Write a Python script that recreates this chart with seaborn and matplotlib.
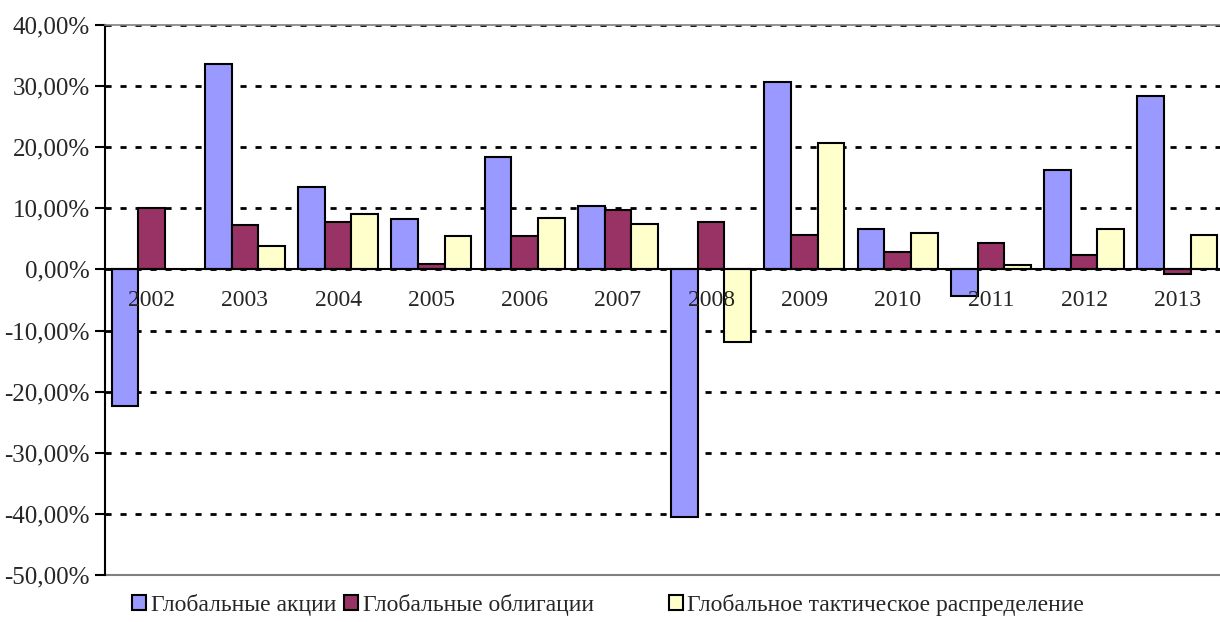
import numpy as np
import pandas as pd
import matplotlib
matplotlib.use("Agg")
import matplotlib.pyplot as plt
from matplotlib.ticker import FuncFormatter, FixedLocator
from matplotlib.patches import Patch
import seaborn as sns

# Annual returns, percent
years = ["2002", "2003", "2004", "2005", "2006", "2007",
         "2008", "2009", "2010", "2011", "2012", "2013"]
stocks = [-22.4, 33.6, 13.5, 8.3, 18.4, 10.4, -40.5, 30.7, 6.6, -4.3, 16.2, 28.4]
bonds = [10.1, 7.3, 7.7, 0.9, 5.5, 9.8, 7.7, 5.6, 2.8, 4.4, 2.3, -0.8]
tactical = [np.nan, 3.8, 9.0, 5.4, 8.5, 7.4, -11.9, 20.7, 6.0, 0.7, 6.6, 5.7]

series_names = ["Глобальные акции", "Глобальные облигации",
                "Глобальное тактическое распределение"]
colors = ["#9999FF", "#993366", "#FFFFCC"]

df = pd.DataFrame({
    "year": years * 3,
    "series": np.repeat(series_names, len(years)),
    "value": stocks + bonds + tactical,
})

sns.set_style("white")
plt.rcParams["font.family"] = ["Liberation Serif", "DejaVu Serif"]
FS = 17

fig = plt.figure(figsize=(12.2, 6.22), dpi=100)
ax = fig.add_axes([105 / 1220, 1 - 575 / 622, (1224 - 105) / 1220, 550 / 622])

sns.barplot(data=df, x="year", y="value", hue="series", order=years,
            hue_order=series_names, palette=colors, width=0.86,
            edgecolor="black", linewidth=1.5, saturation=1,
            errorbar=None, legend=False, ax=ax)

ax.set_xlim(-0.5, 11.5)
ax.set_ylim(-50, 40)
ax.set_yticks(np.arange(-50, 41, 10))
ax.yaxis.set_major_formatter(FuncFormatter(lambda v, p: f"{v:.2f}%".replace(".", ",")))
ax.set_xlabel("")
ax.set_ylabel("")

# dashed horizontal gridlines behind the bars, year labels in front of them
ax.set_axisbelow(True)
ax.yaxis.grid(True, color="black", linewidth=2.0, linestyle=(0, (2.2, 3.2)))
ax.xaxis.set_zorder(4)

# category axis sits on the zero line
ax.spines["bottom"].set_position(("data", 0))
ax.spines["bottom"].set_color("black")
ax.spines["bottom"].set_linewidth(1.5)
ax.spines["bottom"].set_zorder(3)
ax.spines["left"].set_color("black")
ax.spines["left"].set_linewidth(1.5)
ax.spines["top"].set_color("#808080")
ax.spines["top"].set_linewidth(1.2)
ax.spines["right"].set_visible(False)
ax.axhline(-50, color="#808080", linewidth=1.5, clip_on=False, zorder=0.6)

ax.tick_params(axis="x", which="major", length=0, pad=15, labelsize=FS)
ax.xaxis.set_minor_locator(FixedLocator(np.arange(0.5, 11, 1.0)))
ax.tick_params(axis="x", which="minor", length=5, width=1.5, direction="out", color="black")
ax.tick_params(axis="y", which="major", length=7, width=1.5, direction="out",
               color="black", pad=4, labelsize=18, left=True)

# legend entries spaced along the bottom
handles = [Patch(facecolor=c, edgecolor="black", linewidth=1.5) for c in colors]
xs = [0.108, 0.282, 0.548]
for h, name, x in zip(handles, series_names, xs):
    fig.legend([h], [name], loc="center left", bbox_to_anchor=(x, 0.027),
               frameon=False, fontsize=FS, handlelength=0.6, handleheight=0.6,
               handletextpad=0.2, borderpad=0, borderaxespad=0)

fig.savefig("out.png", dpi=100, facecolor="white")
